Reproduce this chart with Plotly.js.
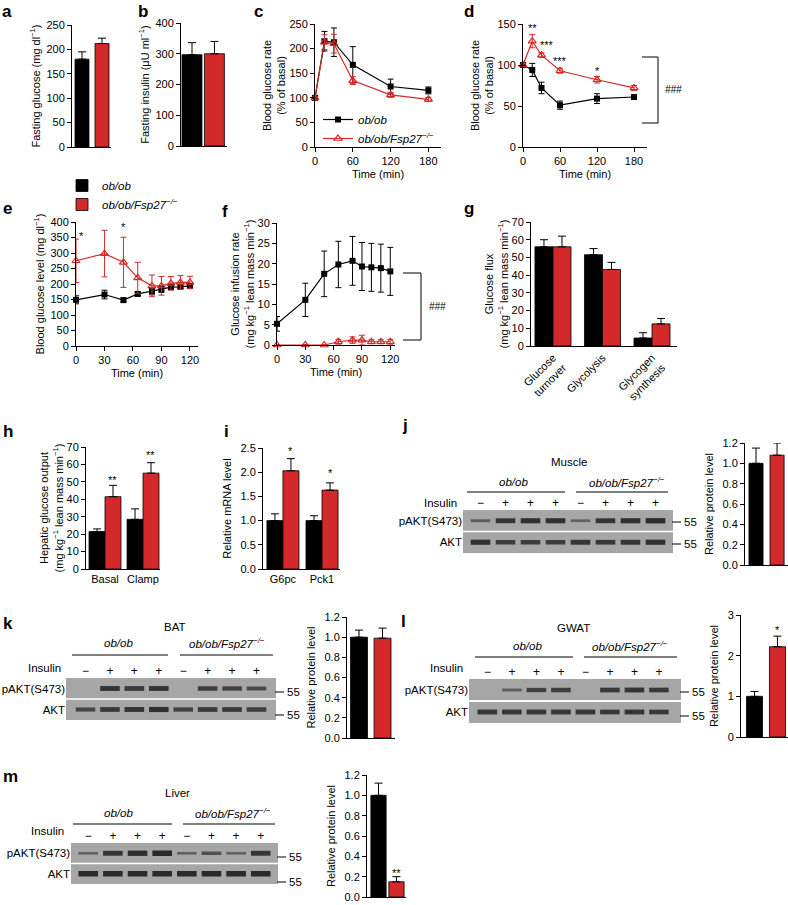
<!DOCTYPE html>
<html><head><meta charset="utf-8">
<script src="https://cdn.plot.ly/plotly-3.0.1.min.js"></script>
<style>html,body{margin:0;padding:0;background:#fff}#chart{width:788px;height:905px}</style>
</head><body><div id="chart"></div>
<script>
// ================= DATA =================
const groupNames = ['<i>ob/ob</i>', '<i>ob/ob/Fsp27</i><sup><i>−/−</i></sup>'];

// a, b
const fastingGlucose = [180, 212];
const fastingGlucoseErr = [15, 11];
const fastingInsulin = [297, 300];
const fastingInsulinErr = [39, 40];

// c (ITT, % of basal)
const timeC = [0, 15, 30, 60, 120, 180];
const cObob = [100, 215, 213, 167, 123, 115];
const cObobErr = [2, 20, 29, 37, 15, 7];
const cKO = [100, 213, 210, 135, 106, 97];
const cKOErr = [2, 15, 19, 8, 5, 4];

// d
const timeD = [0, 15, 30, 60, 120, 180];
const dObob = [100, 94, 72, 51, 59, 61];
const dObobErr = [2, 8, 7, 5, 6, 3];
const dKO = [100, 129, 112, 93, 82, 72];
const dKOErr = [2, 8, 3, 3, 4, 3];

// e, f (clamp)
const timeClamp = [0, 30, 50, 65, 80, 90, 100, 110, 120];
const eObob = [149, 166, 148, 168, 177, 183, 190, 191, 194];
const eObobErr = [13, 14, 6, 7, 12, 10, 6, 6, 6];
const eKO = [275, 298, 270, 220, 194, 194, 202, 205, 205];
const eKOErr = [70, 75, 81, 50, 35, 30, 22, 22, 20];
const fObob = [5.2, 11.1, 17.5, 19.8, 20.7, 19.3, 19.1, 18.9, 18.1];
const fObobErr = [1.8, 4.1, 5.6, 5.7, 6.0, 5.9, 5.9, 5.9, 5.9];
const fKO = [0, 0, 0, 0.8, 1.2, 1.2, 0.8, 0.8, 0.8];
const fKOErr = [0.1, 0.1, 0.1, 0.6, 0.8, 1.2, 0.5, 0.5, 0.6];

// g
const gCats = ['Glucose<br>turnover', 'Glycolysis', 'Glycogen<br>synthesis'];
const gObob = [56, 51.5, 4.5];
const gObobErr = [4, 3.5, 3];
const gKO = [56, 43.2, 12.5];
const gKOErr = [6, 4, 3];

// h
const hCats = ['Basal', 'Clamp'];
const hObob = [21.5, 28.5];
const hObobErr = [1.5, 6];
const hKO = [41.5, 55];
const hKOErr = [6.5, 6];

// i
const iCats = ['G6pc', 'Pck1'];
const iObob = [1.0, 1.0];
const iObobErr = [0.14, 0.1];
const iKO = [2.03, 1.63];
const iKOErr = [0.25, 0.15];

// relative protein level (j muscle, k BAT, l GWAT, m liver)
const muscleRel = [1.0, 1.08];
const muscleRelErr = [0.15, 0.12];
const batRel = [1.0, 0.99];
const batRelErr = [0.07, 0.1];
const gwatRel = [1.0, 2.22];
const gwatRelErr = [0.12, 0.26];
const liverRel = [1.0, 0.15];
const liverRelErr = [0.12, 0.05];

// western blots: band intensities per lane (0..1)
const lanes = [0, 1, 2, 3, 4, 5, 6, 7];
const insulinSigns = ['−', '+', '+', '+', '−', '+', '+', '+'];
const blotRowLabels = ['AKT', 'pAKT(S473)'];
const muscleP = [0.35, 0.85, 0.9, 0.9, 0.3, 0.85, 0.9, 0.95];
const muscleA = [0.9, 0.75, 0.75, 0.75, 0.85, 0.8, 0.85, 0.9];
const batP = [0, 0.85, 0.8, 0.85, 0, 0.75, 0.7, 0.6];
const batA = [0.65, 0.8, 0.85, 0.9, 0.7, 0.8, 0.8, 0.75];
const gwatP = [0, 0.35, 0.7, 0.75, 0, 0.8, 0.85, 0.8];
const gwatA = [0.85, 0.85, 0.85, 0.85, 0.85, 0.8, 0.85, 0.8];
const liverP = [0.3, 0.85, 0.95, 1.0, 0.3, 0.5, 0.3, 0.85];
const liverA = [1.0, 1.0, 1.0, 1.0, 1.0, 1.0, 1.0, 1.0];

// ================= BUILD =================
const W = 788, H = 905;
const RED = '#d3292b';
const FONT = 'Liberation Sans, Arial, Helvetica, sans-serif';
const traces = [], annotations = [], shapes = [];
const layout = {
  width: W, height: H, margin: {l: 0, r: 0, t: 0, b: 0},
  paper_bgcolor: '#fff', plot_bgcolor: 'rgba(0,0,0,0)',
  font: {family: FONT, size: 11, color: '#000'},
  showlegend: true, barmode: 'overlay'
};
const axBase = {
  showline: true, linecolor: '#000', linewidth: 1, ticks: 'outside', ticklen: 4,
  tickwidth: 1, tickcolor: '#000', showgrid: false, zeroline: false,
  tickfont: {size: 11, color: '#000'}, fixedrange: true
};
function addAxes(n, xpx, ypx, xo, yo) {
  const xk = n === 1 ? 'xaxis' : 'xaxis' + n, yk = n === 1 ? 'yaxis' : 'yaxis' + n;
  const xa = n === 1 ? 'x' : 'x' + n, ya = n === 1 ? 'y' : 'y' + n;
  layout[xk] = Object.assign({}, axBase, {domain: [xpx[0] / W, xpx[1] / W], anchor: ya}, xo);
  layout[yk] = Object.assign({}, axBase, {domain: [1 - ypx[1] / H, 1 - ypx[0] / H], anchor: xa}, yo);
  return [xa, ya];
}
// paper-positioned text helper (pixel coords, centred by default)
const P = (x, y) => ({x: x / W, y: 1 - y / H, xref: 'paper', yref: 'paper', xanchor: 'center', yanchor: 'middle'});
function ttl(t, extra) { return Object.assign({text: t, font: {size: 11}}, extra || {}); }
function errUp(arr, color) {
  return {type: 'data', symmetric: false, array: arr, arrayminus: arr.map(() => 0),
          color: color, thickness: 1, width: 4};
}
function errSym(arr, color) {
  return {type: 'data', array: arr, color: color, thickness: 1, width: 3};
}

// ---- simple two-bar panels ----
function twoBars(n, xpx, ypx, vals, errs, yrange, xrange, w, yopt, legendOn) {
  const [xa, ya] = addAxes(n, xpx, ypx,
    {range: xrange, ticks: '', showticklabels: false},
    Object.assign({range: yrange}, yopt));
  [0, 1].forEach(k => {
    const col = k === 0 ? '#000' : RED;
    traces.push({type: 'bar', x: [k], y: [vals[k]], width: [w], offset: [-w / 2],
      xaxis: xa, yaxis: ya, name: groupNames[k],
      marker: {color: col, line: {color: '#000', width: 0.8}},
      error_y: errUp([errs[k]], '#000'),
      showlegend: !!legendOn, legend: 'legend2', cliponaxis: false, hoverinfo: 'y'});
  });
  return [xa, ya];
}

// ---- grouped bar panels ----
function groupBars(n, xpx, ypx, cats, v0, e0, v1, e1, yrange, xrange, w, yopt, xopt) {
  const xs = cats.map((c, i) => i);
  const [xa, ya] = addAxes(n, xpx, ypx,
    Object.assign({range: xrange, ticks: '', tickvals: xs, ticktext: cats}, xopt || {}),
    Object.assign({range: yrange}, yopt));
  traces.push({type: 'bar', x: xs, y: v0, width: xs.map(() => w), offset: xs.map(() => -w),
    xaxis: xa, yaxis: ya, name: groupNames[0], showlegend: false,
    marker: {color: '#000', line: {color: '#000', width: 0.8}}, error_y: errUp(e0, '#000'), cliponaxis: false});
  traces.push({type: 'bar', x: xs, y: v1, width: xs.map(() => w), offset: xs.map(() => 0),
    xaxis: xa, yaxis: ya, name: groupNames[1], showlegend: false,
    marker: {color: RED, line: {color: '#000', width: 0.8}}, error_y: errUp(e1, '#000'), cliponaxis: false});
  return [xa, ya];
}

// ---- time-course panels ----
function timeLines(n, xpx, ypx, t, v0, e0, v1, e1, xrange, xticks, yrange, dtick, ytitle, legendOn) {
  const [xa, ya] = addAxes(n, xpx, ypx,
    {range: xrange, tickvals: xticks, title: ttl('Time (min)', {standoff: 4})},
    {range: yrange, dtick: dtick, title: ttl(ytitle)});
  traces.push({type: 'scatter', mode: 'lines+markers', x: t, y: v0, xaxis: xa, yaxis: ya,
    name: groupNames[0], legend: 'legend', showlegend: !!legendOn, cliponaxis: false,
    line: {color: '#000', width: 1.2}, marker: {symbol: 'square', size: 6, color: '#000'},
    error_y: errSym(e0, '#000')});
  traces.push({type: 'scatter', mode: 'lines+markers', x: t, y: v1, xaxis: xa, yaxis: ya,
    name: groupNames[1], legend: 'legend', showlegend: !!legendOn, cliponaxis: false,
    line: {color: RED, width: 1.2},
    marker: {symbol: 'triangle-up-open', size: 7, color: RED, line: {color: RED, width: 1.2}},
    error_y: errSym(e1, RED)});
  return [xa, ya];
}

// ---- western blot panels ----
function blot(n, xpx, ypx, xrange, pInt, aInt, deco) {
  const [xa, ya] = addAxes(n, xpx, ypx,
    {range: xrange, side: 'top', showline: false, ticks: '', tickvals: lanes, ticktext: insulinSigns,
     tickfont: {size: 12, color: '#000'}},
    {range: [-0.5, 1.5], showline: false, ticks: '', tickvals: [0, 1], ticktext: blotRowLabels,
     tickfont: {size: 11.5, color: '#000'}});
  shapes.push({type: 'rect', xref: xa, yref: ya, x0: xrange[0], x1: xrange[1], y0: 0.54, y1: 1.5,
    fillcolor: '#a6a6a6', line: {width: 0}, layer: 'below'});
  shapes.push({type: 'rect', xref: xa, yref: ya, x0: xrange[0], x1: xrange[1], y0: -0.5, y1: 0.46,
    fillcolor: '#a6a6a6', line: {width: 0}, layer: 'below'});
  [[pInt, 1], [aInt, 0]].forEach(([arr, row]) => {
    traces.push({type: 'scatter', mode: 'markers', x: lanes, y: lanes.map(() => row),
      xaxis: xa, yaxis: ya, showlegend: false, hoverinfo: 'skip', cliponaxis: false,
      marker: {symbol: 'line-ew', size: 14, color: '#333',
        line: {width: arr.map(v => v > 0 ? 1.5 + 4 * v : 0),
               color: arr.map(v => 'rgba(35,35,35,' + (0.35 + 0.6 * v).toFixed(2) + ')')}}});
  });
  // decorations: tissue title, group labels & lines, Insulin label, size markers
  annotations.push(Object.assign(P(deco.title[1], deco.title[2]), {text: deco.title[0], showarrow: false, font: {size: 11.5}}));
  annotations.push(Object.assign(P(deco.g1[0], deco.gy), {text: '<i>ob/ob</i>', showarrow: false, font: {size: 11.5}}));
  annotations.push(Object.assign(P(deco.g2[0], deco.gy), {text: groupNames[1], showarrow: false, font: {size: 11.5}}));
  shapes.push({type: 'line', xref: 'paper', yref: 'paper', x0: deco.l1[0] / W, x1: deco.l1[1] / W,
    y0: 1 - deco.ly / H, y1: 1 - deco.ly / H, line: {color: '#000', width: 1}});
  shapes.push({type: 'line', xref: 'paper', yref: 'paper', x0: deco.l2[0] / W, x1: deco.l2[1] / W,
    y0: 1 - deco.ly / H, y1: 1 - deco.ly / H, line: {color: '#000', width: 1}});
  annotations.push(Object.assign(P(deco.ins[0], deco.ins[1]), {text: 'Insulin', xanchor: 'right', showarrow: false, font: {size: 11.5}}));
  deco.m55.forEach(yy => {
    shapes.push({type: 'line', xref: 'paper', yref: 'paper', x0: (xpx[1] - 1) / W, x1: (xpx[1] + 8) / W,
      y0: 1 - yy / H, y1: 1 - yy / H, line: {color: '#000', width: 1}});
    annotations.push(Object.assign(P(xpx[1] + 9, yy), {text: '55', xanchor: 'left', showarrow: false, font: {size: 11.5}}));
  });
}

function letter(t, x, baseline) {
  annotations.push(Object.assign(P(x, Math.max(0, baseline - 15)), {text: '<b>' + t + '</b>', xanchor: 'left',
    yanchor: 'top', showarrow: false, font: {size: 17}}));
}
function star(t, xa, ya, x, y) {
  annotations.push({text: t, xref: xa, yref: ya, x: x, y: y, showarrow: false,
    xanchor: 'center', yanchor: 'middle', yshift: -3, font: {size: 11}});
}

const protTitle = ttl('Relative protein level');

// a
twoBars(1, [72, 111], [25, 147], fastingGlucose, fastingGlucoseErr, [0, 250], [-0.5, 1.45], 0.7,
  {dtick: 50, title: ttl('Fasting glucose (mg dl<sup>−1</sup>)')}, true);
// b
twoBars(2, [181, 227], [23, 146], fastingInsulin, fastingInsulinErr, [0, 400], [-0.49, 1.56], 0.89,
  {dtick: 100, title: ttl('Fasting insulin (μU ml<sup>−1</sup>)')}, false);
// c
timeLines(3, [315, 441], [24, 147], timeC, cObob, cObobErr, cKO, cKOErr, [0, 200], [0, 60, 120, 180],
  [0, 250], 50, 'Blood glucose rate<br>(% of basal)', true);
// d
const [xd, yd] = timeLines(4, [523, 647], [24, 147], timeD, dObob, dObobErr, dKO, dKOErr, [0, 201], [0, 60, 120, 180],
  [0, 150], 50, 'Blood glucose rate<br>(% of basal)', false);
star('**', xd, yd, 15, 149);
star('***', xd, yd, 39, 128);
star('***', xd, yd, 60, 108);
star('*', xd, yd, 120, 96);
shapes.push({type: 'path', xref: 'paper', yref: 'paper', line: {color: '#000', width: 1},
  path: 'M' + 642 / W + ',' + (1 - 57 / H) + ' L' + 658 / W + ',' + (1 - 57 / H) + ' L' + 658 / W + ',' + (1 - 123 / H) + ' L' + 642 / W + ',' + (1 - 123 / H)});
annotations.push(Object.assign(P(673, 90), {text: '<i>###</i>', showarrow: false, font: {size: 10}}));
// e
const [xe, ye] = timeLines(5, [76, 198], [222, 346], timeClamp, eObob, eObobErr, eKO, eKOErr, [0, 128.5], [0, 30, 60, 90, 120],
  [0, 400], 50, 'Blood glucose level (mg dl<sup>−1</sup>)', false);
star('*', xe, ye, 6, 363);
star('*', xe, ye, 30, 410);
star('*', xe, ye, 50, 393);
// f
timeLines(6, [277, 395], [223, 345], timeClamp, fObob, fObobErr, fKO, fKOErr, [0, 125], [0, 30, 60, 90, 120],
  [0, 30], 5, 'Glucose infusion rate<br>(mg kg<sup>−1</sup> lean mass min<sup>−1</sup>)', false);
shapes.push({type: 'path', xref: 'paper', yref: 'paper', line: {color: '#000', width: 1},
  path: 'M' + 403 / W + ',' + (1 - 273 / H) + ' L' + 421 / W + ',' + (1 - 273 / H) + ' L' + 421 / W + ',' + (1 - 340 / H) + ' L' + 403 / W + ',' + (1 - 340 / H)});
annotations.push(Object.assign(P(437, 307), {text: '<i>###</i>', showarrow: false, font: {size: 10}}));
// g
groupBars(7, [531, 677], [222, 346], gCats, gObob, gObobErr, gKO, gKOErr, [0, 70], [-0.444, 2.505], 0.364,
  {dtick: 10, title: ttl('Glucose flux<br>(mg kg<sup>−1</sup> lean mass min<sup>−1</sup>)')}, {tickangle: -45});
// h
const hw = 0.42;
const [xh, yh] = groupBars(8, [86, 160], [447, 569], hCats, hObob, hObobErr, hKO, hKOErr, [0, 70], [-0.5, 1.447], hw,
  {dtick: 10, title: ttl('Hepatic glucose output<br>(mg kg<sup>−1</sup> lean mass min<sup>−1</sup>)')});
star('**', xh, yh, 0 + hw / 2, 53);
star('**', xh, yh, 1 + hw / 2, 67);
// i
const iw = 0.41;
const [xi, yi] = groupBars(9, [263, 340], [448, 569], iCats, iObob, iObobErr, iKO, iKOErr, [0, 2.5], [-0.51, 1.46], iw,
  {dtick: 0.5, tickformat: '.1f', title: ttl('Relative mRNA level')});
star('*', xi, yi, 0 + iw / 2, 2.5);
star('*', xi, yi, 1 + iw / 2, 2.05);
// j-m relative protein bars
twoBars(10, [745, 788], [443, 565], muscleRel, muscleRelErr, [0, 1.2], [-0.524, 1.52], 0.67,
  {dtick: 0.2, tickformat: '.1f', title: protTitle});
twoBars(11, [347, 395], [617, 738], batRel, batRelErr, [0, 1.2], [-0.51, 1.53], 0.72,
  {dtick: 0.2, tickformat: '.1f', title: protTitle});
const [xl, yl] = twoBars(12, [741, 788], [615, 737], gwatRel, gwatRelErr, [0, 3], [-0.59, 1.46], 0.7,
  {dtick: 1, title: ttl('Relative protein level', {standoff: 6})});
star('*', xl, yl, 1, 2.7);
const [xm, ym] = twoBars(13, [367, 406], [775, 897], liverRel, liverRelErr, [0, 1.2], [-0.64, 1.53], 0.85,
  {dtick: 0.2, tickformat: '.1f', title: protTitle});
star('**', xm, ym, 1, 0.27);

// blots
blot(14, [463, 673], [510, 553], [-0.7, 7.7], muscleP, muscleA,
  {title: ['Muscle', 569, 462], g1: [513], g2: [627], gy: 482, l1: [467, 565], l2: [576, 668], ly: 492,
   ins: [459, 503], m55: [522, 544]});
blot(15, [66, 276], [678, 720], [-0.8, 7.8], batP, batA,
  {title: ['BAT', 175, 627], g1: [118], g2: [227], gy: 643, l1: [72, 168], l2: [180, 273], ly: 655,
   ins: [63, 668], m55: [692, 715]});
blot(16, [469, 681], [679, 723], [-0.75, 7.9], gwatP, gwatA,
  {title: ['GWAT', 573, 628], g1: [527], g2: [630], gy: 646, l1: [475, 573], l2: [584, 677], ly: 657,
   ins: [465, 668], m55: [692, 716]});
blot(17, [71, 278], [843, 884], [-0.7, 7.7], liverP, liverA,
  {title: ['Liver', 177, 793], g1: [118], g2: [233], gy: 813, l1: [73, 172], l2: [183, 275], ly: 824,
   ins: [66, 831], m55: [857, 882]});

// panel letters
letter('a', 0, 13); letter('b', 136, 13); letter('c', 252, 13); letter('d', 462, 13);
letter('e', 1, 212); letter('f', 220, 215); letter('g', 462, 212);
letter('h', 1, 435); letter('i', 222, 435); letter('j', 400, 429);
letter('k', 1, 627); letter('l', 399, 625); letter('m', 1, 780);

layout.legend = {x: 318 / W, y: 1 - 105 / H, xanchor: 'left', yanchor: 'top', bgcolor: 'rgba(0,0,0,0)',
  font: {size: 11.5}, tracegroupgap: 0, itemwidth: 30};
layout.legend2 = {x: 62 / W, y: 1 - 171 / H, xanchor: 'left', yanchor: 'top', bgcolor: 'rgba(0,0,0,0)',
  font: {size: 11.5}, tracegroupgap: 0, itemwidth: 30};
layout.annotations = annotations;
layout.shapes = shapes;

Plotly.newPlot('chart', traces, layout, {displayModeBar: false, staticPlot: true});
</script>
</body></html>
